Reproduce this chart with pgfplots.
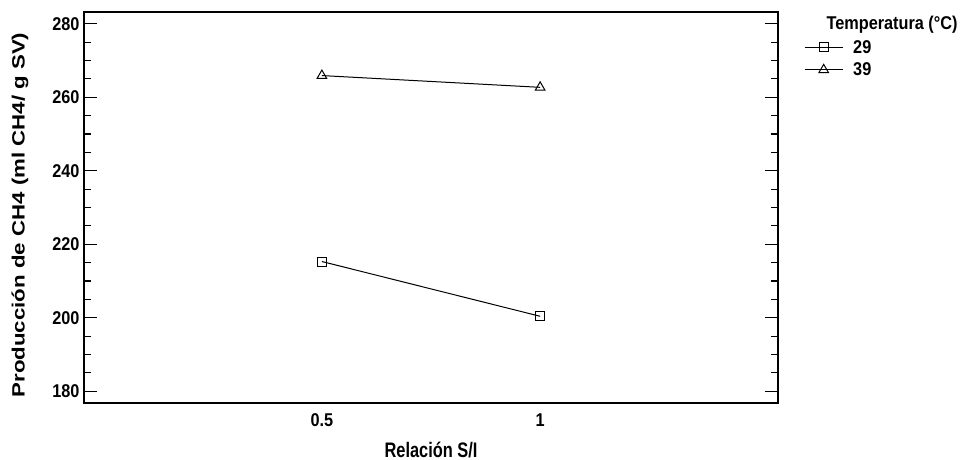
\documentclass[border=0pt]{standalone}
\usepackage{pgfplots}
\pgfplotsset{compat=1.18}
\usepackage{fontspec}
\setmainfont{Liberation Sans}
\newfontfamily\narrowfont[FakeStretch=0.88]{Liberation Sans}
\newfontfamily\xlabfont[FakeStretch=0.78]{Liberation Sans}
\newfontfamily\widefont[FakeStretch=1.25]{Liberation Sans}
\begin{document}
\begin{tikzpicture}[x=1pt,y=1pt]
\begin{axis}[
  at={(84pt,-403pt)}, anchor=south west,
  scale only axis, width=694pt, height=391pt,
  xmin=-0.045, xmax=1.545,
  ymin=176.8, ymax=283.2,
  xtick={0.5,1}, xticklabels={0.5,1},
  ytick={180,200,220,240,260,280},
  minor ytick={185,190,195,205,210,215,225,230,235,245,250,255,265,270,275},
  axis line style={line width=1.1pt},
  major tick length=13pt, minor tick length=7pt,
  ytick style={line width=1.1pt, black},
  xtick style={draw=none},
  tick align=inside,
  ytick pos=both,
  xtick pos=bottom,
  xticklabel style={font=\narrowfont\bfseries\fontsize{18.5}{20}\selectfont, yshift=-7.5pt},
  yticklabel style={font=\narrowfont\bfseries\fontsize{18.5}{20}\selectfont, xshift=-1pt},
  /pgf/number format/assume math mode=true,
  clip=false,
  legend style={draw=none, fill=none, at={(1,1)}, anchor=north west, xshift=24pt, yshift=-24pt,
    font=\narrowfont\bfseries\fontsize{18.5}{20}\selectfont, row sep=4pt, inner sep=2pt,
    /tikz/every odd column/.append style={column sep=8pt}},
  legend cell align=left,
  legend image code/.code={\draw[mark repeat=2,mark phase=2] plot coordinates {(0pt,0pt) (19pt,0pt) (38pt,0pt)};},
]
\addplot[black, line width=1pt, mark=square, mark size=4.5pt, mark options={line width=1pt, fill=white}] coordinates {(0.5,215.3) (1,200.4)};
\addlegendentry{29}
\addplot[black, line width=1pt, mark=triangle, mark size=5.5pt, mark options={line width=1pt, fill=white}] coordinates {(0.5,265.9) (1,262.7)};
\addlegendentry{39}
\end{axis}
% labels outside axis
\node[font=\widefont\bfseries\fontsize{17.8}{20}\selectfont, rotate=90] at (20pt,-215pt) {Producción de CH4 (ml CH4/ g SV)};
\node[font=\xlabfont\bfseries\fontsize{21}{22}\selectfont, anchor=base] at (431pt,-457pt) {Relación S/I};
\node[font=\narrowfont\bfseries\fontsize{18.5}{20}\selectfont, anchor=west] at (823pt,-25pt) {Temperatura (°C)};
\pgfresetboundingbox
\path (0pt,0pt) (962pt,-460pt);
\end{tikzpicture}
\end{document}
